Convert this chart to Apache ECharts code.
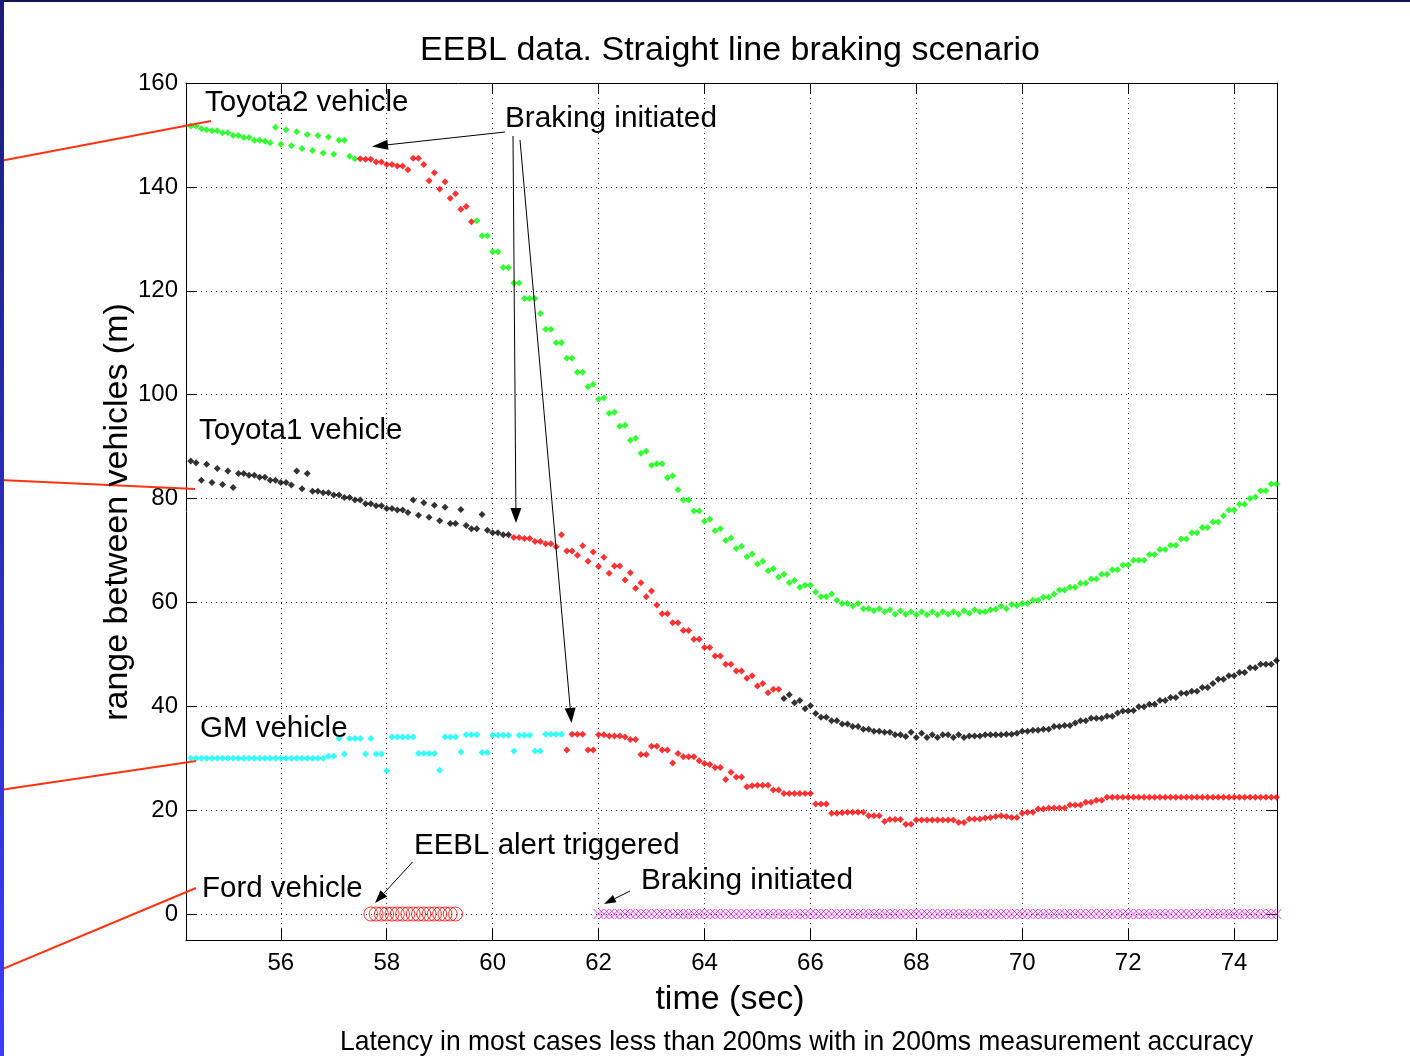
<!DOCTYPE html>
<html><head><meta charset="utf-8">
<script src="https://cdn.jsdelivr.net/npm/echarts@6/dist/echarts.min.js"></script>
<style>html,body{margin:0;padding:0;background:#fff}#c{width:1410px;height:1056px}</style>
</head><body><div id="c"></div>
<script>
// ---- data ----
const times = [
54.3,54.4,54.5,54.6,54.7,54.8,54.9,55.0,55.1,55.2,
55.3,55.4,55.5,55.6,55.7,55.8,55.9,56.0,56.1,56.2,
56.3,56.4,56.5,56.6,56.7,56.8,56.9,57.0,57.1,57.2,
57.3,57.4,57.5,57.6,57.7,57.8,57.9,58.0,58.1,58.2,
58.3,58.4,58.5,58.6,58.7,58.8,58.9,59.0,59.1,59.2,
59.3,59.4,59.5,59.6,59.7,59.8,59.9,60.0,60.1,60.2,
60.3,60.4,60.5,60.6,60.7,60.8,60.9,61.0,61.1,61.2,
61.3,61.4,61.5,61.6,61.7,61.8,61.9,62.0,62.1,62.2,
62.3,62.4,62.5,62.6,62.7,62.8,62.9,63.0,63.1,63.2,
63.3,63.4,63.5,63.6,63.7,63.8,63.9,64.0,64.1,64.2,
64.3,64.4,64.5,64.6,64.7,64.8,64.9,65.0,65.1,65.2,
65.3,65.4,65.5,65.6,65.7,65.8,65.9,66.0,66.1,66.2,
66.3,66.4,66.5,66.6,66.7,66.8,66.9,67.0,67.1,67.2,
67.3,67.4,67.5,67.6,67.7,67.8,67.9,68.0,68.1,68.2,
68.3,68.4,68.5,68.6,68.7,68.8,68.9,69.0,69.1,69.2,
69.3,69.4,69.5,69.6,69.7,69.8,69.9,70.0,70.1,70.2,
70.3,70.4,70.5,70.6,70.7,70.8,70.9,71.0,71.1,71.2,
71.3,71.4,71.5,71.6,71.7,71.8,71.9,72.0,72.1,72.2,
72.3,72.4,72.5,72.6,72.7,72.8,72.9,73.0,73.1,73.2,
73.3,73.4,73.5,73.6,73.7,73.8,73.9,74.0,74.1,74.2,
74.3,74.4,74.5,74.6,74.7,74.8];

const toyota2Range = [
151.7,151.7,151.2,151.0,150.8,150.8,150.4,150.4,149.9,149.9,
149.5,149.5,149.0,149.0,148.8,148.5,151.5,148.2,151.0,147.9,
150.6,147.4,150.1,147.0,149.9,146.5,149.6,146.3,149.0,149.0,
145.9,145.4,145.4,145.3,145.3,144.8,144.8,144.3,144.3,144.0,
144.0,143.3,145.5,145.5,144.3,141.2,142.7,139.6,141.0,137.8,
138.7,135.7,136.2,133.3,133.5,130.6,130.6,127.5,127.5,124.5,
124.5,121.5,121.5,118.5,118.5,118.5,115.6,112.6,112.6,110.0,
110.0,107.0,107.0,104.3,104.3,101.5,102.0,99.1,99.4,96.4,
96.6,93.9,94.1,91.2,91.6,88.7,89.1,86.4,86.7,86.7,
84.0,84.4,81.7,79.7,79.7,77.6,77.6,75.6,76.0,73.8,
74.2,71.9,72.4,70.4,70.8,68.8,69.3,67.4,67.9,66.1,
66.5,64.9,65.4,63.8,64.2,62.9,63.3,63.3,62.0,61.1,
61.1,61.6,60.4,59.8,59.8,59.3,59.8,58.8,58.8,58.4,
58.8,58.2,58.6,57.7,58.4,57.7,58.2,57.6,58.2,57.6,
58.2,57.6,58.2,57.7,58.2,57.7,58.4,57.9,58.6,58.2,
58.2,58.6,58.7,59.3,58.8,59.6,59.4,59.8,59.8,60.4,
60.4,61.0,61.0,61.6,62.4,62.4,62.9,62.9,63.7,63.7,
64.5,64.5,65.4,65.4,66.3,66.3,67.2,67.2,68.1,68.1,
68.1,69.2,69.2,70.2,70.2,71.0,71.0,72.2,72.2,73.4,
73.4,74.4,74.4,75.5,75.5,76.7,77.8,77.8,78.9,78.9,
80.0,80.3,81.5,81.5,82.8,82.8];

const toyota1Range = [
87.2,86.9,83.5,86.6,83.1,85.8,82.7,85.3,82.1,84.8,
84.8,84.5,84.5,84.1,84.1,83.5,83.5,83.1,83.1,82.6,
85.3,81.9,84.8,81.4,81.4,81.1,81.1,80.7,80.7,80.2,
80.2,79.7,79.7,79.0,79.0,78.6,78.6,78.1,78.1,77.8,
77.8,77.3,79.7,76.8,79.2,76.4,78.7,75.7,78.3,75.2,
75.2,77.9,74.8,74.2,74.2,76.9,73.9,73.4,73.4,73.0,
73.0,72.5,72.5,72.3,72.3,71.7,71.7,71.3,71.3,70.7,
73.0,69.9,69.9,69.1,70.9,67.9,69.7,66.9,68.7,65.6,
67.0,67.0,64.3,65.7,62.7,63.8,61.1,62.2,59.5,57.8,
57.8,56.1,56.1,54.6,54.6,52.9,52.9,51.3,51.3,49.7,
49.7,48.1,48.1,46.8,46.8,45.4,45.9,43.9,44.4,42.6,
43.3,43.3,41.5,42.2,40.7,41.1,39.5,40.1,38.6,37.9,
37.9,37.2,37.2,36.6,36.6,36.1,36.1,35.6,35.6,35.2,
35.2,35.0,35.0,34.5,34.5,34.2,35.0,34.0,34.8,34.0,
34.5,34.0,34.5,34.5,34.0,34.5,34.0,34.3,34.3,34.3,
34.5,34.5,34.5,34.5,34.6,34.6,34.8,35.2,35.2,35.4,
35.4,35.6,35.6,36.1,36.1,36.3,36.3,36.8,37.2,37.2,
37.7,37.7,37.7,38.1,38.1,38.7,39.1,39.1,39.2,39.9,
39.9,40.4,40.4,41.1,41.1,41.7,41.7,42.5,42.5,42.9,
42.9,43.6,43.6,44.4,45.2,45.2,45.9,45.9,46.5,46.5,
47.4,47.4,48.1,48.1,48.1,48.8];

const gmRange = [
30.0,30.0,30.0,30.0,30.0,30.0,30.0,30.0,30.0,30.0,
30.0,30.0,30.0,30.0,30.0,30.0,30.0,30.0,30.0,30.0,
30.0,30.0,30.0,30.0,30.0,30.0,30.4,30.4,33.8,30.8,
33.8,33.8,33.8,30.8,33.8,30.8,30.8,27.6,34.1,34.1,
34.1,34.1,34.1,30.9,30.9,30.9,30.9,27.7,34.1,34.1,
34.1,31.2,34.5,34.5,34.5,31.1,31.1,34.4,34.4,34.4,
34.4,31.4,34.4,34.4,34.4,31.4,31.4,34.6,34.6,34.6,
34.6,31.6,34.6,34.6,34.6,31.6,31.6,34.5,34.5,34.3,
34.3,34.3,34.1,33.6,33.6,30.7,30.7,32.3,32.3,31.6,
31.6,29.1,30.9,30.3,30.3,30.3,29.5,29.0,28.8,28.2,
28.2,25.9,27.3,26.4,26.4,24.5,24.7,24.8,24.8,24.8,
23.9,23.9,23.2,23.2,23.2,23.2,23.2,23.2,21.2,21.2,
21.2,19.4,19.4,19.5,19.6,19.6,19.6,19.6,18.9,18.9,
18.9,17.8,18.2,18.2,18.2,17.3,17.3,18.1,18.1,18.1,
18.1,18.1,18.1,18.1,18.1,17.6,17.6,18.3,18.3,18.3,
18.5,18.6,18.8,18.9,18.8,18.6,18.6,19.4,19.6,19.6,
20.2,20.2,20.4,20.4,20.4,20.4,21.0,21.0,21.0,21.5,
21.5,21.9,21.9,22.5,22.5,22.5,22.5,22.5,22.5,22.5,
22.5,22.5,22.5,22.5,22.5,22.5,22.5,22.5,22.5,22.5,
22.5,22.5,22.5,22.5,22.5,22.5,22.5,22.5,22.5,22.5,
22.5,22.5,22.5,22.5,22.5,22.5];

// braking windows (sec) — points inside are drawn red
const toyota2Brake = [57.5, 59.6];
const toyota1Brake = [60.4, 65.4];
const gmBrake = [61.4, 74.8];
// Ford vehicle: EEBL alert window and braking window (range 0)
const fordAlert = [57.7, 59.3];
const fordBrake = [62.0, 74.8];
const fordLevel = 0;

const xTicks = [56,58,60,62,64,66,68,70,72,74];
const yTicks = [0,20,40,60,80,100,120,140,160];

// ---- build ----
const FONT = '"Liberation Sans", Arial, Helvetica, sans-serif';
const inR = (t, r) => t >= r[0] - 1e-6 && t <= r[1] + 1e-6;
function splitSeries(vals, r) {
  const a = [], b = [];
  times.forEach((t, i) => { (inR(t, r) ? b : a).push([t, vals[i]]); });
  return [a, b];
}
const [t2n, t2b] = splitSeries(toyota2Range, toyota2Brake);
const [t1n, t1b] = splitSeries(toyota1Range, toyota1Brake);
const [gmn, gmb] = splitSeries(gmRange, gmBrake);
const fordAlertData = times.filter(t => inR(t, fordAlert)).map(t => [t, fordLevel]);
const fordBrakeData = times.filter(t => inR(t, fordBrake)).map(t => [t, fordLevel]);

const dots = (data, color) => ({
  type: 'scatter', data, symbol: 'diamond', symbolSize: 7,
  itemStyle: { color }, silent: true, z: 3
});

const XMIN = 54.21, XMAX = 74.81, YMIN = -5, YMAX = 160;
const gridLine = { show: true, lineStyle: { color: '#222', width: 1, type: [1, 4] } };
const axisBase = {
  type: 'value', scale: false,
  axisLine: { show: true, onZero: false, lineStyle: { color: '#000', width: 1 } },
};

const chart = echarts.init(document.getElementById('c'), null, { renderer: 'canvas' });

function arrow(x1, y1, x2, y2, len, hw) {
  const dx = x2 - x1, dy = y2 - y1, L = Math.hypot(dx, dy), ux = dx / L, uy = dy / L;
  const bx = x2 - ux * len, by = y2 - uy * len;
  return [
    { type: 'line', shape: { x1, y1, x2: bx, y2: by }, style: { stroke: '#000', lineWidth: 1 }, z: 50 },
    { type: 'polygon', shape: { points: [[x2, y2], [bx - uy * hw, by + ux * hw], [bx + uy * hw, by - ux * hw]] },
      style: { fill: '#000' }, z: 50 }
  ];
}
const txt = (text, x, y, size, align) => ({
  type: 'text', x, y, z: 60,
  style: { text, font: size + 'px ' + FONT, fill: '#000', textAlign: align || 'left', textVerticalAlign: 'middle' }
});
const redLine = (x1, y1, x2, y2) => ({ type: 'line', shape: { x1, y1, x2, y2 },
  style: { stroke: '#ff3311', lineWidth: 2 }, z: 55 });

const graphics = [
  { type: 'rect', shape: { x: 0, y: 0, width: 1410, height: 2 }, style: { fill: '#12125a' }, z: 70 },
  { type: 'rect', shape: { x: 0, y: 0, width: 4, height: 1056 },
    style: { fill: new echarts.graphic.LinearGradient(0, 0, 0, 1, [
      { offset: 0, color: '#1c1c78' }, { offset: 1, color: '#3c3cff' }]) }, z: 70 },
  txt('EEBL data. Straight line braking scenario', 730, 51, 34, 'center'),
  { type: 'text', x: 118, y: 512, rotation: Math.PI / 2, z: 60,
    style: { text: 'range between vehicles (m)', font: '34px ' + FONT, fill: '#000', textAlign: 'center', textVerticalAlign: 'middle' } },
  txt('time (sec)', 730, 1000, 34, 'center'),
  { type: 'text', x: 340, y: 1042, scaleX: 0.945, z: 60,
    style: { text: 'Latency in most cases less than 200ms with in 200ms measurement accuracy', font: '28px ' + FONT, fill: '#000', textAlign: 'left', textVerticalAlign: 'middle' } },
  txt('Toyota2 vehicle', 205, 103, 29.5),
  txt('Braking initiated', 505, 119, 29.8),
  txt('Toyota1 vehicle', 199, 431, 29.5),
  txt('GM vehicle', 200, 729, 29.5),
  txt('Ford vehicle', 202, 889, 29.5),
  txt('EEBL alert triggered', 414, 846, 29.5),
  txt('Braking initiated', 641, 881, 29.8),
  redLine(0, 161, 211, 121),
  redLine(0, 480, 195, 489),
  redLine(0, 790, 196, 761),
  redLine(0, 970, 196, 888),
  ...arrow(505, 132, 372, 146.5, 16, 5),
  ...arrow(513, 136, 516, 523, 15, 5.5),
  ...arrow(520, 140, 571.5, 723, 15, 5.5),
  ...arrow(412.5, 862, 375, 903, 13, 4.5),
  ...arrow(630, 891, 604, 904, 12, 4),
];

chart.setOption({
  animation: false,
  backgroundColor: '#fff',
  grid: { left: 186, top: 83, width: 1091, height: 857, containLabel: false },
  xAxis: [
    Object.assign({}, axisBase, {
      min: XMIN, max: XMAX, position: 'bottom',
      axisTick: { show: true, inside: true, length: 11, customValues: xTicks, lineStyle: { color: '#000' } },
      axisLabel: { show: true, customValues: xTicks, margin: 11, color: '#000', fontSize: 24, fontFamily: FONT },
      splitLine: gridLine
    }),
    Object.assign({}, axisBase, {
      min: XMIN, max: XMAX, position: 'top',
      axisTick: { show: true, inside: true, length: 11, customValues: xTicks, lineStyle: { color: '#000' } },
      axisLabel: { show: false }, splitLine: { show: false }
    })
  ],
  yAxis: [
    Object.assign({}, axisBase, {
      min: YMIN, max: YMAX, position: 'left',
      axisTick: { show: true, inside: true, length: 11, customValues: yTicks, lineStyle: { color: '#000' } },
      axisLabel: { show: true, customValues: yTicks, margin: 8, color: '#000', fontSize: 24, fontFamily: FONT },
      splitLine: gridLine
    }),
    Object.assign({}, axisBase, {
      min: YMIN, max: YMAX, position: 'right',
      axisTick: { show: true, inside: true, length: 11, customValues: yTicks, lineStyle: { color: '#000' } },
      axisLabel: { show: false }, splitLine: { show: false }
    })
  ],
  series: [
    dots(t2n, '#00ff00'), dots(t2b, '#ff0000'),
    dots(t1n, '#000000'), dots(t1b, '#ff0000'),
    dots(gmn, '#00ffff'), dots(gmb, '#ff0000'),
    { type: 'scatter', data: fordAlertData, symbol: 'circle', symbolSize: 14, silent: true, z: 4,
      itemStyle: { color: 'rgba(0,0,0,0)', borderColor: '#ff0000', borderWidth: 1 } },
    { type: 'scatter', data: fordBrakeData, symbol: 'path://M0,0L10,10M0,10L10,0', symbolSize: 10, silent: true, z: 4,
      clip: false,
      itemStyle: { color: 'rgba(0,0,0,0)', borderColor: '#ff00ff', borderWidth: 1 } }
  ],
  graphic: graphics
});
</script>
</body></html>
